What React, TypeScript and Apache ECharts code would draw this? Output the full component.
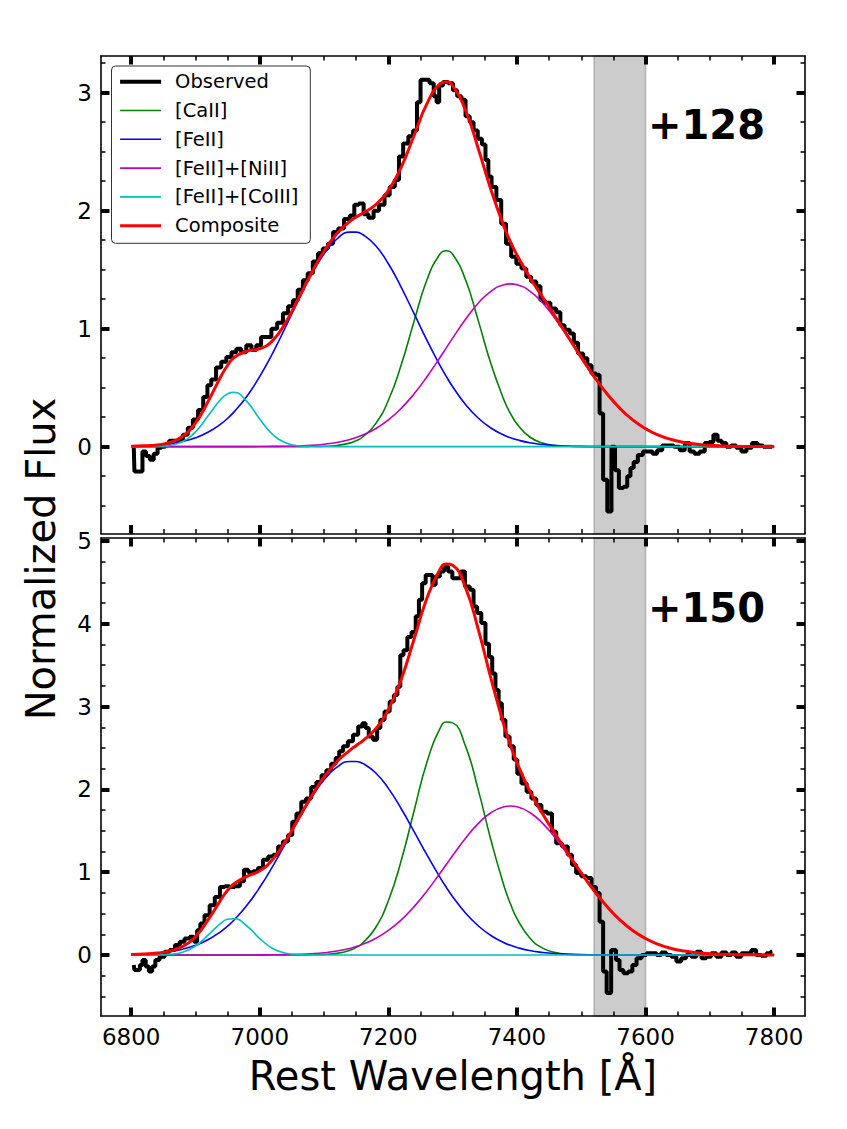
import React, { useEffect, useRef } from "react";
import * as echarts from "echarts";

const FONT = "DejaVu Sans";

// ---- axes ----
const X_MIN = 6753;
const X_MAX = 7848;
const X_MAJOR = [6800, 7000, 7200, 7400, 7600, 7800];
const X_MINOR = [6800, 6850, 6900, 6950, 7000, 7050, 7100, 7150, 7200, 7250, 7300, 7350, 7400, 7450, 7500, 7550, 7600, 7650, 7700, 7750, 7800];
const Y_TOP_MIN = -0.736;
const Y_TOP_MAX = 3.311;
const Y_TOP_MAJOR = [0, 1, 2, 3];
const Y_TOP_MINOR = [-0.5, -0.25, 0, 0.25, 0.5, 0.75, 1, 1.25, 1.5, 1.75, 2, 2.25, 2.5, 2.75, 3, 3.25];
const Y_BOT_MIN = -0.737;
const Y_BOT_MAX = 5.036;
const Y_BOT_MAJOR = [0, 1, 2, 3, 4, 5];
const Y_BOT_MINOR = [-0.5, -0.25, 0, 0.25, 0.5, 0.75, 1, 1.25, 1.5, 1.75, 2, 2.25, 2.5, 2.75, 3, 3.25, 3.5, 3.75, 4, 4.25, 4.5, 4.75, 5];

const BAND = [7520, 7600];
const PANEL_LABELS = ["+128", "+150"];
const SERIES_NAMES = ["Observed", "[CaII]", "[FeII]", "[FeII]+[NiII]", "[FeII]+[CoIII]", "Composite"];
const SERIES_COLORS = ["#000000", "#008000", "#0000ff", "#bf00bf", "#00bfbf", "#ff0000"];
const SERIES_WIDTHS = [4, 1.6, 1.6, 1.6, 1.6, 3];

// ---- model wavelength grid ----
const WL_GRID = [
  6800, 6820, 6840, 6860, 6880, 6900, 6920, 6940, 6950, 6960, 6980,
  7000, 7020, 7040, 7060, 7080, 7100, 7120, 7140, 7150, 7160, 7180,
  7200, 7220, 7240, 7260, 7280, 7290, 7300, 7320, 7340, 7360, 7380, 7390,
  7400, 7420, 7440, 7460, 7480, 7500, 7520, 7540, 7560, 7580,
  7600, 7620, 7640, 7660, 7680, 7700, 7720, 7740, 7760, 7780,
  7800,
];

// ---- +128 panel components ----
const CAII_128 = [
  0, 0, 0, 0, 0, 0, 0, 0, 0, 0, 0,
  0, 0, 0, 0, 0.001, 0.003, 0.01, 0.03, 0.051, 0.082, 0.193,
  0.393, 0.694, 1.064, 1.414, 1.631, 1.66, 1.631, 1.414, 1.064, 0.694, 0.393, 0.28,
  0.193, 0.082, 0.03, 0.01, 0.003, 0.001, 0, 0, 0, 0,
  0, 0, 0, 0, 0, 0, 0, 0, 0, 0,
  0,
];
const FEII_128 = [
  0.003, 0.007, 0.013, 0.024, 0.044, 0.075, 0.124, 0.195, 0.241, 0.295, 0.428,
  0.596, 0.793, 1.013, 1.24, 1.454, 1.634, 1.76, 1.818, 1.818, 1.798, 1.705,
  1.55, 1.35, 1.127, 0.901, 0.691, 0.596, 0.508, 0.357, 0.241, 0.156, 0.097, 0.075,
  0.058, 0.033, 0.018, 0.009, 0.005, 0.002, 0.001, 0, 0, 0,
  0, 0, 0, 0, 0, 0, 0, 0, 0, 0,
  0,
];
const NIII_128 = [
  0, 0, 0, 0, 0, 0, 0, 0, 0, 0, 0,
  0.001, 0.002, 0.003, 0.006, 0.011, 0.021, 0.036, 0.061, 0.077, 0.098, 0.152,
  0.227, 0.325, 0.448, 0.593, 0.753, 0.837, 0.92, 1.08, 1.218, 1.319, 1.373, 1.38,
  1.373, 1.319, 1.218, 1.08, 0.92, 0.753, 0.593, 0.448, 0.325, 0.227,
  0.152, 0.098, 0.061, 0.036, 0.021, 0.011, 0.006, 0.003, 0.002, 0.001,
  0,
];
const COIII_128 = [
  0, 0, 0.002, 0.011, 0.044, 0.126, 0.264, 0.406, 0.449, 0.46, 0.382,
  0.233, 0.104, 0.034, 0.008, 0.002, 0, 0, 0, 0, 0, 0,
  0, 0, 0, 0, 0, 0, 0, 0, 0, 0, 0, 0,
  0, 0, 0, 0, 0, 0, 0, 0, 0, 0,
  0, 0, 0, 0, 0, 0, 0, 0, 0, 0,
  0,
];
const COMPOSITE_128 = [
  0.003, 0.007, 0.015, 0.035, 0.088, 0.201, 0.388, 0.601, 0.69, 0.755, 0.81,
  0.83, 0.899, 1.05, 1.254, 1.467, 1.658, 1.806, 1.909, 1.946, 1.978, 2.05,
  2.17, 2.369, 2.639, 2.908, 3.075, 3.093, 3.059, 2.851, 2.523, 2.169, 1.863, 1.735,
  1.624, 1.434, 1.266, 1.099, 0.928, 0.755, 0.594, 0.448, 0.325, 0.227,
  0.152, 0.098, 0.061, 0.036, 0.021, 0.011, 0.006, 0.003, 0.002, 0.001,
  0,
];

// ---- +150 panel components ----
const CAII_150 = [
  0, 0, 0, 0, 0, 0, 0, 0, 0, 0, 0,
  0, 0, 0, 0, 0.002, 0.006, 0.019, 0.056, 0.092, 0.145, 0.329,
  0.655, 1.141, 1.742, 2.33, 2.73, 2.813, 2.803, 2.522, 1.988, 1.373, 0.83, 0.615,
  0.44, 0.204, 0.083, 0.03, 0.009, 0.003, 0.001, 0, 0, 0,
  0, 0, 0, 0, 0, 0, 0, 0, 0, 0,
  0,
];
const FEII_150 = [
  0.006, 0.012, 0.022, 0.04, 0.07, 0.116, 0.186, 0.286, 0.35, 0.423, 0.6,
  0.818, 1.071, 1.349, 1.631, 1.894, 2.115, 2.268, 2.337, 2.337, 2.314, 2.201,
  2.012, 1.766, 1.49, 1.208, 0.941, 0.818, 0.704, 0.506, 0.35, 0.232, 0.148, 0.116,
  0.091, 0.053, 0.03, 0.016, 0.009, 0.004, 0.002, 0.001, 0, 0,
  0, 0, 0, 0, 0, 0, 0, 0, 0, 0,
  0,
];
const NIII_150 = [
  0, 0, 0, 0, 0, 0, 0, 0, 0, 0, 0,
  0.001, 0.002, 0.004, 0.008, 0.015, 0.027, 0.047, 0.079, 0.101, 0.128, 0.199,
  0.296, 0.424, 0.584, 0.773, 0.983, 1.092, 1.201, 1.409, 1.589, 1.721, 1.791, 1.8,
  1.791, 1.721, 1.589, 1.409, 1.201, 0.983, 0.773, 0.584, 0.424, 0.296,
  0.199, 0.128, 0.079, 0.047, 0.027, 0.015, 0.008, 0.004, 0.002, 0.001,
  0,
];
const COIII_150 = [
  0, 0, 0.001, 0.008, 0.034, 0.108, 0.243, 0.388, 0.431, 0.438, 0.35,
  0.198, 0.079, 0.022, 0.005, 0.001, 0, 0, 0, 0, 0, 0,
  0, 0, 0, 0, 0, 0, 0, 0, 0, 0, 0, 0,
  0, 0, 0, 0, 0, 0, 0, 0, 0, 0,
  0, 0, 0, 0, 0, 0, 0, 0, 0, 0,
  0,
];
const COMPOSITE_150 = [
  0.006, 0.012, 0.023, 0.048, 0.104, 0.224, 0.429, 0.674, 0.781, 0.861, 0.95,
  1.017, 1.152, 1.375, 1.644, 1.911, 2.148, 2.334, 2.472, 2.53, 2.587, 2.729,
  2.963, 3.331, 3.816, 4.311, 4.654, 4.723, 4.708, 4.437, 3.927, 3.326, 2.769, 2.531,
  2.322, 1.978, 1.702, 1.455, 1.219, 0.99, 0.776, 0.585, 0.424, 0.296,
  0.199, 0.128, 0.079, 0.047, 0.027, 0.015, 0.008, 0.004, 0.002, 0.001,
  0,
];

// ---- observed spectra [wavelength, flux] ----
const OBSERVED_128: [number, number][] = [
  [6804, -0.01], [6806, -0.21], [6815, -0.21], [6820, -0.04], [6826, -0.08], [6832, -0.11], [6838, -0.06], [6844, -0.01],
  [6850, 0.0], [6856, 0.02], [6862, 0.05], [6870, 0.05], [6877, 0.06], [6884, 0.1], [6892, 0.16], [6900, 0.23],
  [6908, 0.31], [6916, 0.42], [6921, 0.52], [6928, 0.57], [6936, 0.67], [6944, 0.72], [6952, 0.76], [6960, 0.8],
  [6967, 0.83], [6975, 0.8], [6983, 0.86], [6991, 0.82], [6998, 0.86], [7006, 0.93], [7014, 0.93], [7022, 1.0],
  [7032, 1.05], [7040, 1.13], [7048, 1.19], [7055, 1.24], [7063, 1.33], [7071, 1.41], [7078, 1.47], [7087, 1.57],
  [7094, 1.64], [7102, 1.68], [7110, 1.72], [7118, 1.82], [7126, 1.85], [7136, 1.93], [7144, 1.96], [7150, 2.05],
  [7158, 2.06], [7165, 1.97], [7173, 1.94], [7181, 2.0], [7190, 2.05], [7198, 2.13], [7206, 2.2], [7214, 2.26],
  [7219, 2.46], [7227, 2.57], [7235, 2.63], [7242, 2.68], [7247, 2.92], [7253, 3.11], [7260, 3.11], [7268, 3.08],
  [7273, 2.97], [7277, 2.92], [7281, 3.06], [7289, 3.09], [7297, 3.08], [7304, 3.02], [7310, 2.97], [7317, 2.94],
  [7323, 2.8], [7330, 2.75], [7335, 2.68], [7343, 2.61], [7348, 2.56], [7354, 2.43], [7357, 2.29], [7364, 2.2],
  [7372, 2.09], [7379, 1.89], [7387, 1.72], [7395, 1.61], [7403, 1.55], [7411, 1.51], [7418, 1.44], [7426, 1.4],
  [7434, 1.36], [7439, 1.24], [7447, 1.22], [7457, 1.17], [7465, 1.14], [7470, 1.03], [7478, 0.99], [7486, 0.96],
  [7491, 0.88], [7499, 0.79], [7507, 0.75], [7512, 0.69], [7520, 0.62], [7526, 0.61], [7531, 0.28], [7537, -0.28],
  [7544, -0.55], [7550, 0.0], [7555, -0.2], [7562, -0.35], [7569, -0.34], [7574, -0.25], [7579, -0.18], [7584, -0.13],
  [7592, -0.07], [7600, -0.04], [7608, -0.04], [7614, -0.06], [7622, -0.03], [7630, 0.01], [7639, 0.01], [7649, 0.0],
  [7657, -0.03], [7665, 0.03], [7672, -0.04], [7680, -0.06], [7688, -0.04], [7696, 0.03], [7702, 0.04], [7709, 0.1],
  [7715, 0.05], [7722, 0.03], [7729, 0.0], [7737, 0.01], [7745, -0.01], [7753, -0.04], [7761, -0.01], [7770, 0.03],
  [7779, 0.01], [7787, 0.0], [7797, 0.0],
];

const OBSERVED_150: [number, number][] = [
  [6804, -0.12], [6806, -0.18], [6812, -0.18], [6815, -0.12], [6820, -0.06], [6825, -0.14], [6830, -0.2], [6835, -0.14],
  [6840, -0.06], [6848, -0.02], [6856, 0.04], [6864, 0.06], [6872, 0.12], [6879, 0.16], [6887, 0.2], [6895, 0.22],
  [6900, 0.16], [6905, 0.3], [6910, 0.38], [6918, 0.48], [6926, 0.6], [6934, 0.7], [6942, 0.82], [6949, 0.83],
  [6957, 0.82], [6965, 0.83], [6973, 0.89], [6978, 1.03], [6986, 1.0], [6993, 1.01], [7001, 1.05], [7009, 1.15],
  [7017, 1.19], [7025, 1.21], [7032, 1.31], [7040, 1.37], [7048, 1.45], [7053, 1.61], [7061, 1.71], [7068, 1.85],
  [7076, 1.89], [7084, 2.03], [7092, 2.09], [7100, 2.17], [7107, 2.23], [7115, 2.31], [7121, 2.38], [7126, 2.46],
  [7133, 2.52], [7141, 2.58], [7149, 2.66], [7157, 2.76], [7162, 2.8], [7167, 2.74], [7172, 2.64], [7180, 2.6],
  [7185, 2.74], [7190, 2.84], [7198, 2.94], [7206, 3.06], [7211, 3.14], [7217, 3.24], [7220, 3.62], [7227, 3.68],
  [7232, 3.84], [7240, 3.9], [7245, 4.09], [7250, 4.29], [7255, 4.49], [7261, 4.59], [7266, 4.59], [7271, 4.47],
  [7276, 4.57], [7284, 4.63], [7289, 4.69], [7297, 4.63], [7302, 4.55], [7310, 4.55], [7315, 4.63], [7323, 4.45],
  [7330, 4.41], [7335, 4.21], [7341, 4.13], [7348, 4.01], [7354, 3.76], [7359, 3.6], [7364, 3.4], [7369, 3.2],
  [7374, 3.04], [7379, 2.84], [7385, 2.64], [7392, 2.52], [7398, 2.36], [7403, 2.19], [7411, 2.07], [7419, 1.97],
  [7426, 1.89], [7434, 1.81], [7442, 1.73], [7452, 1.71], [7457, 1.49], [7465, 1.35], [7475, 1.31], [7483, 1.21],
  [7488, 1.09], [7496, 0.99], [7504, 0.95], [7512, 0.93], [7520, 0.82], [7526, 0.75], [7531, 0.4], [7537, -0.2],
  [7542, -0.46], [7551, 0.06], [7557, -0.06], [7562, -0.18], [7569, -0.22], [7577, -0.2], [7582, -0.12], [7590, -0.04],
  [7598, 0.0], [7605, 0.02], [7613, 0.02], [7621, 0.0], [7628, 0.03], [7636, 0.0], [7644, -0.02], [7652, -0.08],
  [7659, -0.04], [7667, 0.0], [7675, -0.02], [7683, 0.04], [7691, -0.04], [7698, -0.02], [7706, 0.02], [7714, -0.02],
  [7722, 0.03], [7730, 0.0], [7737, 0.03], [7745, -0.02], [7753, 0.02], [7761, 0.02], [7768, 0.06], [7776, 0.0],
  [7784, -0.01], [7792, 0.02], [7797, 0.04],
];

// ---- layout ----
const GRIDS = [
  { left: 101, top: 56, width: 704, height: 477.5 },
  { left: 101, top: 538, width: 704, height: 478 },
];

function axesFor(kind: "x" | "y", gridIndex: number, min: number, max: number, major: number[], minor: number[], labels: boolean) {
  const sides = kind === "x" ? ["bottom", "top"] : ["left", "right"];
  const out: any[] = [];
  sides.forEach((position, si) => {
    [false, true].forEach((isMajor) => {
      out.push({
        type: "value",
        gridIndex,
        position,
        min,
        max,
        splitLine: { show: false },
        axisLine: { show: !isMajor, onZero: false, lineStyle: { color: "#000", width: 1.6 } },
        axisTick: {
          show: true,
          inside: true,
          length: isMajor ? 8.5 : 4.5,
          customValues: isMajor ? major : minor,
          lineStyle: { color: "#000", width: isMajor ? 4 : 1.5 },
        },
        axisLabel: {
          show: labels && isMajor && si === 0,
          customValues: major,
          formatter: (v: number) => String(v),
          fontFamily: FONT,
          fontSize: 23,
          color: "#000",
          margin: 9,
        },
        axisPointer: { show: false },
        z: 5,
      });
    });
  });
  return out;
}

function panelSeries(axisIndex: number, observed: [number, number][], comps: number[][], composite: number[]) {
  const toPairs = (vals: number[]) => WL_GRID.map((w, i) => [w, vals[i]]);
  const list: any[] = [];
  list.push({
    type: "line",
    name: "band",
    xAxisIndex: axisIndex,
    yAxisIndex: axisIndex,
    data: [[BAND[0], 0], [BAND[1], 0]],
    symbol: "none",
    lineStyle: { opacity: 0, width: 0 },
    silent: true,
    z: 1,
    markArea: {
      silent: true,
      itemStyle: { color: "rgba(128,128,128,0.4)", borderColor: "rgba(128,128,128,0.5)", borderWidth: 1.5 },
      data: [[{ xAxis: BAND[0] }, { xAxis: BAND[1] }]],
    },
  });
  list.push({
    type: "line",
    name: SERIES_NAMES[0],
    xAxisIndex: axisIndex,
    yAxisIndex: axisIndex,
    data: observed,
    step: "middle",
    symbol: "none",
    silent: true,
    z: 2,
    lineStyle: { color: SERIES_COLORS[0], width: SERIES_WIDTHS[0] },
    itemStyle: { color: SERIES_COLORS[0] },
  });
  comps.forEach((vals, k) => {
    list.push({
      type: "line",
      name: SERIES_NAMES[k + 1],
      xAxisIndex: axisIndex,
      yAxisIndex: axisIndex,
      data: toPairs(vals),
      smooth: 0.5,
      symbol: "none",
      silent: true,
      z: 2,
      lineStyle: { color: SERIES_COLORS[k + 1], width: SERIES_WIDTHS[k + 1] },
      itemStyle: { color: SERIES_COLORS[k + 1] },
    });
  });
  list.push({
    type: "line",
    name: SERIES_NAMES[5],
    xAxisIndex: axisIndex,
    yAxisIndex: axisIndex,
    data: toPairs(composite),
    smooth: 0.5,
    symbol: "none",
    silent: true,
    z: 2,
    lineStyle: { color: SERIES_COLORS[5], width: SERIES_WIDTHS[5] },
    itemStyle: { color: SERIES_COLORS[5] },
  });
  return list;
}

export default function App() {
  const ref = useRef<HTMLDivElement>(null);
  useEffect(() => {
    if (!ref.current) return;
    const chart = echarts.init(ref.current, undefined, { renderer: "svg" });
    const option: any = {
      animation: false,
      backgroundColor: "#ffffff",
      textStyle: { fontFamily: FONT },
      grid: GRIDS.map((g) => ({ ...g, containLabel: false, outerBoundsMode: "none" })),
      xAxis: [
        ...axesFor("x", 0, X_MIN, X_MAX, X_MAJOR, X_MINOR, false),
        ...axesFor("x", 1, X_MIN, X_MAX, X_MAJOR, X_MINOR, true),
      ],
      yAxis: [
        ...axesFor("y", 0, Y_TOP_MIN, Y_TOP_MAX, Y_TOP_MAJOR, Y_TOP_MINOR, true),
        ...axesFor("y", 1, Y_BOT_MIN, Y_BOT_MAX, Y_BOT_MAJOR, Y_BOT_MINOR, true),
      ],
      legend: {
        data: SERIES_NAMES.map((name, i) => ({
          name,
          lineStyle: { color: SERIES_COLORS[i], width: SERIES_WIDTHS[i] },
          itemStyle: { opacity: 0 },
        })),
        orient: "vertical",
        left: 111.5,
        top: 66,
        padding: [5.7, 12, 7.6, 6.6],
        itemWidth: 41,
        itemHeight: 20,
        itemGap: 8.8,
        itemStyle: { opacity: 0 },
        backgroundColor: "rgba(255,255,255,0.8)",
        borderColor: "#333333",
        borderWidth: 1,
        borderRadius: 4,
        selectedMode: false,
        textStyle: { fontFamily: FONT, fontSize: 19.5, color: "#000", lineHeight: 20, padding: [0, 0, 0, 9] },
        z: 10,
      },
      series: [
        ...panelSeries(0, OBSERVED_128, [CAII_128, FEII_128, NIII_128, COIII_128], COMPOSITE_128),
        ...panelSeries(4, OBSERVED_150, [CAII_150, FEII_150, NIII_150, COIII_150], COMPOSITE_150),
      ],
      graphic: [
        {
          type: "text",
          x: 41,
          y: 559,
          rotation: Math.PI / 2,
          style: { text: "Normalized Flux", fontSize: 40, fontFamily: FONT, fill: "#000", align: "center", verticalAlign: "middle", textAlign: "center", textVerticalAlign: "middle" },
        },
        {
          type: "text",
          x: 453,
          y: 1076,
          style: { text: "Rest Wavelength [Å]", fontSize: 40, fontFamily: FONT, fill: "#000", align: "center", verticalAlign: "middle", textAlign: "center", textVerticalAlign: "middle" },
        },
        {
          type: "text",
          x: 648,
          y: 125,
          z: 10,
          style: { text: PANEL_LABELS[0], fontSize: 40, fontWeight: "bold", fontFamily: FONT, fill: "#000", align: "left", verticalAlign: "middle", textAlign: "left", textVerticalAlign: "middle" },
        },
        {
          type: "text",
          x: 648,
          y: 608,
          z: 10,
          style: { text: PANEL_LABELS[1], fontSize: 40, fontWeight: "bold", fontFamily: FONT, fill: "#000", align: "left", verticalAlign: "middle", textAlign: "left", textVerticalAlign: "middle" },
        },
      ],
    };
    chart.setOption(option);
    return () => chart.dispose();
  }, []);
  return (
    <div
      ref={ref}
      style={{ position: "absolute", left: 0, top: 0, width: "847px", height: "1129px", background: "#fff" }}
    />
  );
}
